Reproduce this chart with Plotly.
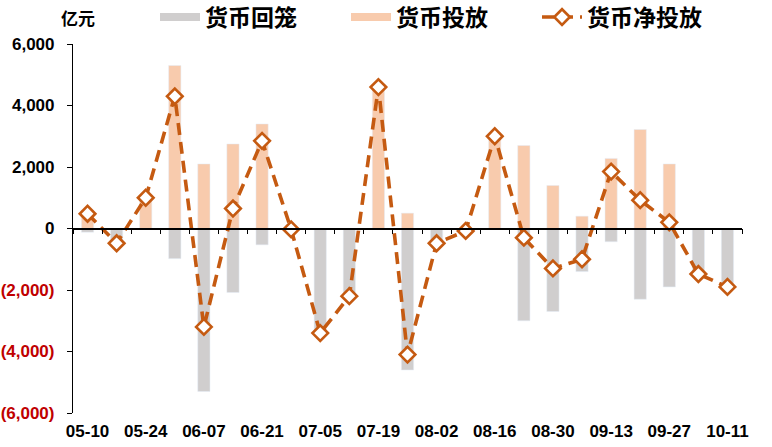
import plotly.graph_objects as go

dates = ["05-10", "05-17", "05-24", "05-31", "06-07", "06-14", "06-21", "06-28",
         "07-05", "07-12", "07-19", "07-26", "08-02", "08-09", "08-16", "08-23",
         "08-30", "09-06", "09-13", "09-20", "09-27", "10-04", "10-11"]
injection = [600, 0, 1000, 5300, 2100, 2750, 3400, 0, 0, 0, 4600, 500,
             0, 0, 3000, 2700, 1400, 400, 2280, 3220, 2100, 0, 0]
withdrawal = [-120, -480, 0, -980, -5300, -2080, -530, -30, -3400, -2200, 0, -4600,
              -480, -80, 0, -3000, -2700, -1400, -430, -2300, -1900, -1480, -1900]
net = [480, -480, 1000, 4300, -3200, 650, 2850, -30, -3400, -2200, 4600, -4100,
       -480, -80, 3000, -300, -1300, -1000, 1850, 920, 200, -1480, -1900]

x_label_dates = dates[::2]
y_ticks = [-6000, -4000, -2000, 0, 2000, 4000, 6000]
y_labels = ["(6,000)", "(4,000)", "(2,000)", "0", "2,000", "4,000", "6,000"]

GRAY = "#D0CECE"
PEACH = "#F8CBAD"
ORANGE = "#C55A11"
NEG_RED = "#C00000"

y_ticktext = [f"<span style='color:{NEG_RED}'>{t}</span>" if v < 0 else t
              for v, t in zip(y_ticks, y_labels)]

fig = go.Figure()

fig.add_trace(go.Bar(x=dates, y=withdrawal, marker_color=GRAY, name="货币回笼",
                     legendgroup="w", showlegend=False))
fig.add_trace(go.Bar(x=dates, y=injection, marker_color=PEACH, name="货币投放",
                     legendgroup="i", showlegend=False))
# legend swatches (wide rectangles like the reference)
fig.add_trace(go.Scatter(x=[None], y=[None], mode="lines", name="货币回笼",
                         line=dict(color=GRAY, width=8), legendgroup="w"))
fig.add_trace(go.Scatter(x=[None], y=[None], mode="lines", name="货币投放",
                         line=dict(color=PEACH, width=8), legendgroup="i"))
fig.add_trace(go.Scatter(x=dates, y=net, mode="lines+markers", name="货币净投放",
                         line=dict(color=ORANGE, width=3.6, dash="12px,7px"),
                         marker=dict(symbol="diamond", size=12, color="white",
                                     line=dict(color=ORANGE, width=2.6))))
# helper trace for the zero-line axis with boundary ticks
fig.add_trace(go.Scatter(x=dates, y=[None] * len(dates), xaxis="x2", mode="lines",
                         showlegend=False, hoverinfo="skip"))

num_font = dict(family="Liberation Sans, Arial", size=17, color="black", weight="bold")

fig.update_layout(
    width=772, height=447,
    margin=dict(l=73, r=30, t=44, b=34, autoexpand=False),
    plot_bgcolor="white", paper_bgcolor="white",
    barmode="relative", bargap=0.58,
    xaxis=dict(type="category", range=[-0.5, 22.5], showline=False, ticks="",
               tickvals=x_label_dates, ticktext=x_label_dates, tickfont=num_font,
               showgrid=False, zeroline=False, ticklabelstandoff=6, automargin=False),
    xaxis2=dict(type="category", overlaying="x", matches="x", anchor="free", position=0.5,
                showline=True, linecolor="black", linewidth=1.5, ticks="outside",
                tickson="boundaries", ticklen=5, tickcolor="black", tickwidth=1.2,
                showticklabels=False, showgrid=False, zeroline=False, automargin=False),
    yaxis=dict(range=[-6000, 6000], tickvals=y_ticks, ticktext=y_ticktext,
               tickfont=num_font, showline=True, linecolor="black", linewidth=1.2,
               ticks="outside", ticklen=5, tickcolor="black", showgrid=False,
               zeroline=False, ticklabelstandoff=9, automargin=False),
    legend=dict(orientation="h", xref="paper", yref="paper", x=0.1226, y=1.073,
                xanchor="left", yanchor="middle", bgcolor="rgba(0,0,0,0)",
                font=dict(family="Noto Sans CJK SC", size=23, color="black", weight="bold"),
                traceorder="normal", entrywidth=136, itemwidth=40),
    annotations=[dict(text="亿元", x=-0.0215, y=1.073, xref="paper", yref="paper",
                      xanchor="left", yanchor="middle", showarrow=False,
                      font=dict(family="Noto Sans CJK SC", size=17, color="black", weight="bold"))],
)

fig.write_html("out.html", config={"displayModeBar": False},
               post_script="document.body.style.margin='0';")
